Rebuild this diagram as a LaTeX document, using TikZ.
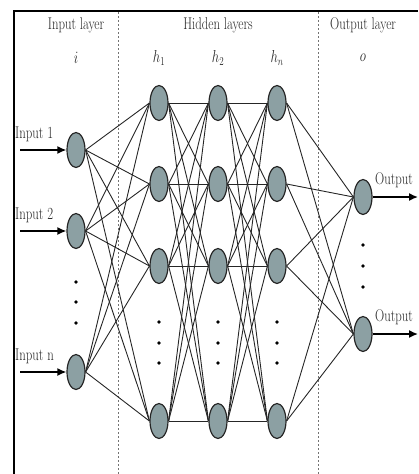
\documentclass[tikz,border=0pt]{standalone}
\usetikzlibrary{shapes.geometric,arrows.meta}
\definecolor{nfill}{RGB}{140,160,163}
\newcommand{\nsq}[1]{\scalebox{0.75}[1]{#1}}
\begin{document}
\begin{tikzpicture}[x=1pt,y=-1pt,
  neuron/.style={ellipse,draw=black!85,line width=1.2pt,fill=nfill,minimum width=18pt,minimum height=35pt,inner sep=0pt},
  conn/.style={line width=0.9pt,draw=black!85},
  lbl/.style={font=\fontsize{17}{19}\selectfont,text=black!85,inner sep=0pt},
  sepline/.style={draw=black!55,dash pattern=on 2pt off 2pt,line width=0.7pt},
  dotm/.style={circle,fill=black,inner sep=0pt,minimum size=3.6pt},
  io/.style={-{Latex[length=9pt,width=8pt]},line width=1.5pt,draw=black}]
\useasboundingbox (0,0) rectangle (418,474);
% frame
\draw[line width=2pt] (14,474) -- (14,11) -- (418,11);
% separators
\draw[sepline] (118,12) -- (118,474);
\draw[sepline] (318,12) -- (318,474);
% headers
\node[lbl] (tin) at (76,25) {\nsq{Input layer}};
\node[lbl] (thid) at (218,25) {\nsq{Hidden layers}};
\node[lbl] (tout) at (363,25) {\nsq{Output layer}};
\node[lbl] (li) at (76,58) {\nsq{$i$}};
\node[lbl] (lh1) at (159,58) {\nsq{$h_1$}};
\node[lbl] (lh2) at (218,58) {\nsq{$h_2$}};
\node[lbl] (lhn) at (277,58) {\nsq{$h_n$}};
\node[lbl] (lo) at (363,58) {\nsq{$o$}};
% neurons
\node[neuron] (i1) at (76,150) {};
\node[neuron] (i2) at (76,231) {};
\node[neuron] (i3) at (76,372) {};
\foreach \c/\x in {a/159,b/218,c/277}{
  \node[neuron] (\c1) at (\x,103) {};
  \node[neuron] (\c2) at (\x,184) {};
  \node[neuron] (\c3) at (\x,266) {};
  \node[neuron] (\c4) at (\x,421) {};
  \node[dotm] (\c d1) at (\x,322) {};
  \node[dotm] (\c d2) at (\x,343) {};
  \node[dotm] (\c d3) at (\x,363) {};
}
\node[neuron] (o1) at (363,197) {};
\node[neuron] (o2) at (363,334) {};
% dots
\node[dotm] (id1) at (76,282) {};
\node[dotm] (id2) at (76,302) {};
\node[dotm] (id3) at (76,323) {};
\node[dotm] (od1) at (363,245) {};
\node[dotm] (od2) at (363,266) {};
\node[dotm] (od3) at (363,287) {};
% connections
\foreach \s in {i1,i2,i3}{\foreach \t in {a1,a2,a3,a4}{\draw[conn] (\s.east) -- (\t.west);}}
\foreach \s in {a1,a2,a3,a4}{\foreach \t in {b1,b2,b3,b4}{\draw[conn] (\s.east) -- (\t.west);}}
\foreach \s in {b1,b2,b3,b4}{\foreach \t in {c1,c2,c3,c4}{\draw[conn] (\s.east) -- (\t.west);}}
\foreach \s in {c1,c2,c3,c4}{\foreach \t in {o1,o2}{\draw[conn] (\s.east) -- (\t.west);}}
% inputs
\coordinate (s1) at (20,150);
\coordinate (s2) at (20,231);
\coordinate (s3) at (20,372);
\draw[io] (s1) -- (i1.west);
\draw[io] (s2) -- (i2.west);
\draw[io] (s3) -- (i3.west);
\node[lbl,anchor=west] (in1) at (15,134) {\nsq{Input 1}};
\node[lbl,anchor=west] (in2) at (15,215) {\nsq{Input 2}};
\node[lbl,anchor=west] (in3) at (15,356) {\nsq{Input n}};
% outputs
\coordinate (e1) at (418,197);
\coordinate (e2) at (418,334);
\draw[io] (o1.east) -- (e1);
\draw[io] (o2.east) -- (e2);
\node[lbl] (out1) at (394,180) {\nsq{Output}};
\node[lbl] (out2) at (394,317) {\nsq{Output}};
\end{tikzpicture}
\end{document}
